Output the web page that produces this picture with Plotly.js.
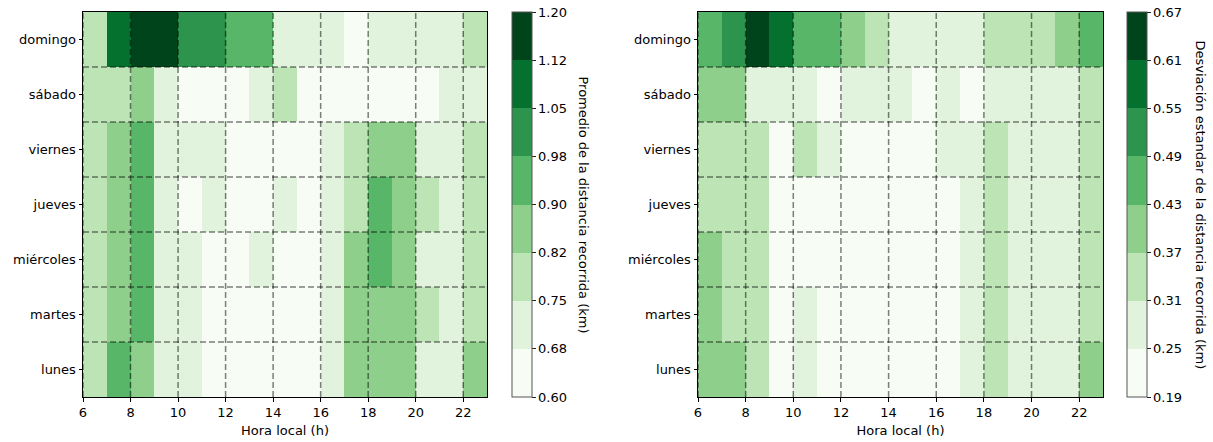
<!DOCTYPE html>
<html>
<head>
<meta charset="utf-8">
<script src="https://cdn.plot.ly/plotly-3.0.1.min.js"></script>
<style>html,body{margin:0;padding:0;background:#fff;}#chart{width:1213px;height:442px;}</style>
</head>
<body>
<div id="chart"></div>
<script>
// ---- data ----
const hours = [6,7,8,9,10,11,12,13,14,15,16,17,18,19,20,21,22];
const days = ['lunes','martes','miércoles','jueves','viernes','sábado','domingo'];
const xTicks = [6,8,10,12,14,16,18,20,22];

// Promedio de la distancia recorrida (km), rows = days (lunes..domingo), cols = hours
const meanLunes     = [0.79,0.94,0.86,0.71,0.71,0.65,0.65,0.65,0.65,0.65,0.71,0.86,0.86,0.86,0.71,0.71,0.86];
const meanMartes    = [0.79,0.86,0.94,0.71,0.71,0.65,0.65,0.65,0.65,0.65,0.71,0.86,0.86,0.86,0.79,0.71,0.79];
const meanMiercoles = [0.79,0.86,0.94,0.71,0.71,0.65,0.65,0.71,0.65,0.65,0.71,0.86,0.94,0.86,0.71,0.71,0.79];
const meanJueves    = [0.79,0.86,0.94,0.71,0.65,0.71,0.65,0.65,0.71,0.65,0.71,0.79,0.94,0.86,0.79,0.71,0.79];
const meanViernes   = [0.79,0.86,0.94,0.71,0.71,0.71,0.65,0.65,0.65,0.65,0.71,0.79,0.86,0.86,0.71,0.71,0.79];
const meanSabado    = [0.79,0.79,0.86,0.71,0.65,0.65,0.65,0.71,0.79,0.65,0.65,0.65,0.65,0.65,0.65,0.71,0.71];
const meanDomingo   = [0.79,1.09,1.17,1.17,1.01,1.01,0.94,0.94,0.71,0.71,0.71,0.65,0.71,0.71,0.71,0.71,0.79];

// Desviación estandar de la distancia recorrida (km)
const stdLunes     = [0.40,0.40,0.34,0.23,0.28,0.23,0.23,0.23,0.23,0.23,0.23,0.28,0.34,0.28,0.28,0.28,0.40];
const stdMartes    = [0.40,0.34,0.34,0.23,0.28,0.23,0.23,0.23,0.23,0.23,0.23,0.28,0.34,0.28,0.28,0.28,0.34];
const stdMiercoles = [0.40,0.34,0.34,0.23,0.23,0.23,0.23,0.23,0.23,0.23,0.23,0.28,0.34,0.28,0.28,0.28,0.34];
const stdJueves    = [0.34,0.34,0.34,0.23,0.23,0.23,0.23,0.23,0.23,0.23,0.23,0.28,0.34,0.28,0.28,0.28,0.34];
const stdViernes   = [0.34,0.34,0.34,0.23,0.34,0.28,0.23,0.23,0.23,0.23,0.28,0.28,0.34,0.28,0.28,0.28,0.34];
const stdSabado    = [0.40,0.40,0.28,0.28,0.28,0.23,0.28,0.28,0.28,0.23,0.28,0.23,0.28,0.28,0.28,0.28,0.34];
const stdDomingo   = [0.46,0.52,0.64,0.58,0.46,0.46,0.40,0.34,0.28,0.28,0.28,0.28,0.34,0.34,0.34,0.40,0.46];

const meanBounds = [0.60,0.675,0.75,0.825,0.90,0.975,1.05,1.125,1.20];
const meanLabels = ['0.60','0.68','0.75','0.82','0.90','0.98','1.05','1.12','1.20'];
const stdBounds  = [0.19,0.25,0.31,0.37,0.43,0.49,0.55,0.61,0.67];
const stdLabels  = ['0.19','0.25','0.31','0.37','0.43','0.49','0.55','0.61','0.67'];

const meanTitle = 'Promedio de la distancia recorrida (km)';
const stdTitle  = 'Desviación estandar de la distancia recorrida (km)';
const xTitle = 'Hora local (h)';

// ---- styling ----
const greens = ['#f7fcf5','#e1f3dc','#bce4b5','#8ed08b','#57b668','#2c944c','#05712f','#00441b'];
function discreteScale(cols){
  const n = cols.length, s = [];
  cols.forEach((c,i)=>{ s.push([i/n,c]); s.push([(i+1)/n,c]); });
  return s;
}
const FONT = 'DejaVu Sans, sans-serif';
const FS = 13;
const W = 1213;
const dom1 = [83/W, 487/W];
const dom2 = [698/W, 1103/W];

const meanZ = [meanLunes,meanMartes,meanMiercoles,meanJueves,meanViernes,meanSabado,meanDomingo];
const stdZ  = [stdLunes,stdMartes,stdMiercoles,stdJueves,stdViernes,stdSabado,stdDomingo];
const rowCenters = days.map((d,i)=>i+0.5);
const xCenters = hours.map(h=>h+0.5);

function cb(xPx, bounds, labels){
  return {
    x: xPx/W, xanchor:'left', xpad:0, ypad:0, y:0.5, yanchor:'middle', len:1, lenmode:'fraction',
    thickness:20, outlinewidth:1, outlinecolor:'#555', borderwidth:0,
    tickmode:'array', tickvals:bounds, ticktext:labels, ticks:'outside', ticklen:3.5,
    tickcolor:'#222', tickfont:{family:FONT,size:FS,color:'#000'}
  };
}

const traces = [
  {type:'heatmap', x:xCenters, y:rowCenters, z:meanZ, xaxis:'x', yaxis:'y',
   colorscale:discreteScale(greens), zmin:meanBounds[0], zmax:meanBounds[meanBounds.length-1],
   colorbar:cb(512, meanBounds, meanLabels), hoverinfo:'skip'},
  {type:'heatmap', x:xCenters, y:rowCenters, z:stdZ, xaxis:'x2', yaxis:'y2',
   colorscale:discreteScale(greens), zmin:stdBounds[0], zmax:stdBounds[stdBounds.length-1],
   colorbar:cb(1127, stdBounds, stdLabels), hoverinfo:'skip'}
];

function xa(dom){
  return {domain:dom, range:[hours[0], hours[hours.length-1]+1], tickmode:'array', tickvals:xTicks,
    ticks:'outside', ticklen:3.5, tickcolor:'#000', showgrid:false, zeroline:false,
    showline:true, linecolor:'#000', linewidth:1, mirror:true,
    tickfont:{family:FONT,size:FS,color:'#000'},
    title:{text:xTitle, font:{family:FONT,size:FS,color:'#000'}, standoff:6}};
}
function ya(anchor){
  return {domain:[0,1], range:[0, days.length], tickmode:'array', tickvals:rowCenters, ticktext:days,
    ticks:'outside', ticklen:3.5, tickcolor:'#000', showgrid:false, zeroline:false,
    showline:true, linecolor:'#000', linewidth:1, mirror:true, anchor:anchor,
    tickfont:{family:FONT,size:FS,color:'#000'}};
}

const shapes = [];
const dashStyle = {color:'rgba(0,0,0,0.5)', width:1.5, dash:'6px,3px'};
[['x','y'],['x2','y2']].forEach(([xr,yr])=>{
  xTicks.forEach(t=>{
    shapes.push({type:'line', xref:xr, yref:yr, x0:t, x1:t, y0:0, y1:days.length, line:dashStyle, layer:'above'});
  });
  for(let i=1;i<days.length;i++){
    shapes.push({type:'line', xref:xr, yref:yr, x0:hours[0], x1:hours[hours.length-1]+1, y0:i, y1:i, line:dashStyle, layer:'above'});
  }
});

const annotations = [
  {text:meanTitle, xref:'paper', yref:'paper', x:583/W, y:0.5, textangle:90, showarrow:false,
   font:{family:FONT,size:FS,color:'#000'}, xanchor:'center', yanchor:'middle'},
  {text:stdTitle, xref:'paper', yref:'paper', x:1200/W, y:0.5, textangle:90, showarrow:false,
   font:{family:FONT,size:FS,color:'#000'}, xanchor:'center', yanchor:'middle'}
];

const layout = {
  width:1213, height:442, margin:{l:0,r:0,t:12,b:45},
  paper_bgcolor:'#fff', plot_bgcolor:'#fff',
  xaxis:xa(dom1), yaxis:ya('x'),
  xaxis2:xa(dom2), yaxis2:ya('x2'),
  shapes:shapes, annotations:annotations, showlegend:false,
  font:{family:FONT,size:FS,color:'#000'}
};

Plotly.newPlot('chart', traces, layout, {displayModeBar:false, staticPlot:true});
</script>
</body>
</html>
